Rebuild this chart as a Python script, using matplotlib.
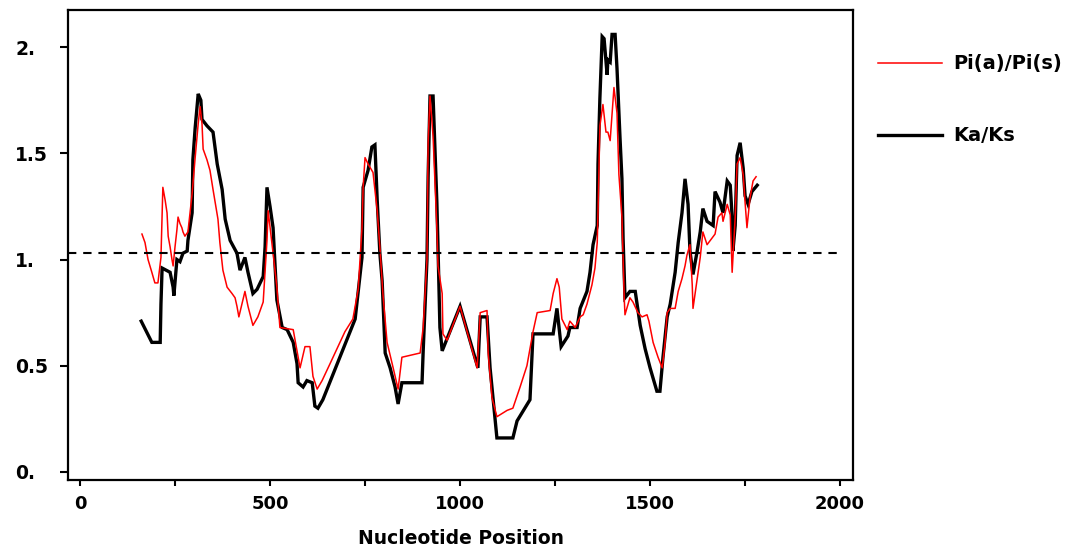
import matplotlib
matplotlib.use("Agg")
import matplotlib.pyplot as plt
from matplotlib.lines import Line2D

# Ka/Ks (black)
ka_x = [161, 189, 211, 213, 216, 237, 245, 247, 255, 263, 271, 282, 284, 295, 297, 303, 311, 318, 321, 334,
        350, 361, 374, 382, 395, 413, 421, 434, 442, 455, 466, 482, 487, 492, 500, 508, 518, 532, 545, 561,
        571, 574, 587, 597, 611, 618, 626, 639, 724, 742, 745, 758, 768, 776, 782, 789, 795, 803, 816, 829,
        837, 847, 900, 903, 913, 916, 921, 929, 934, 939, 942, 947, 953, 1000, 1047, 1053, 1071, 1079, 1097, 1139,
        1150, 1184, 1192, 1245, 1255, 1266, 1284, 1289, 1308, 1316, 1334, 1342, 1350, 1361, 1363, 1368, 1374, 1379, 1387, 1389,
        1395, 1400, 1408, 1413, 1421, 1426, 1429, 1434, 1447, 1461, 1474, 1487, 1500, 1518, 1526, 1534, 1545, 1553, 1566, 1574,
        1584, 1592, 1600, 1605, 1613, 1624, 1632, 1639, 1650, 1666, 1671, 1684, 1692, 1703, 1711, 1716, 1718, 1724, 1729, 1737,
        1745, 1750, 1758, 1768, 1782]
ka_y = [0.71, 0.61, 0.61, 0.79, 0.96, 0.94, 0.87, 0.83, 1.00, 0.99, 1.03, 1.04, 1.09, 1.22, 1.47, 1.62, 1.78, 1.75, 1.66, 1.63,
        1.60, 1.45, 1.33, 1.19, 1.09, 1.03, 0.95, 1.01, 0.94, 0.84, 0.86, 0.92, 1.06, 1.34, 1.25, 1.15, 0.81, 0.68, 0.67, 0.61,
        0.51, 0.42, 0.40, 0.43, 0.42, 0.31, 0.30, 0.34, 0.72, 1.01, 1.34, 1.42, 1.53, 1.54, 1.28, 1.03, 0.90, 0.56, 0.49, 0.40,
        0.32, 0.42, 0.42, 0.57, 1.00, 1.39, 1.77, 1.77, 1.52, 1.27, 1.06, 0.68, 0.57, 0.78, 0.49, 0.73, 0.73, 0.49, 0.16, 0.16,
        0.24, 0.34, 0.65, 0.65, 0.77, 0.59, 0.64, 0.68, 0.68, 0.77, 0.85, 0.94, 1.07, 1.16, 1.45, 1.76, 2.05, 2.04, 1.87, 1.94,
        1.93, 2.06, 2.06, 1.90, 1.57, 1.38, 1.10, 0.82, 0.85, 0.85, 0.69, 0.58, 0.49, 0.38, 0.38, 0.54, 0.73, 0.79, 0.94, 1.08,
        1.22, 1.38, 1.26, 1.04, 0.93, 1.04, 1.13, 1.24, 1.18, 1.16, 1.32, 1.27, 1.22, 1.37, 1.35, 1.20, 1.04, 1.16, 1.49, 1.55,
        1.43, 1.30, 1.26, 1.32, 1.35]

# Pi(a)/Pi(s) (red)
pi_x = [163, 171, 179, 189, 197, 205, 213, 216, 218, 224, 229, 232, 237, 242, 245, 250, 255, 258, 263, 268,
        271, 276, 284, 295, 303, 311, 316, 321, 324, 334, 342, 350, 363, 368, 376, 387, 400, 408, 413, 418,
        434, 442, 455, 468, 482, 492, 495, 508, 518, 526, 561, 571, 579, 592, 605, 613, 624, 637, 658, 697,
        718, 732, 742, 745, 750, 758, 771, 782, 789, 797, 808, 824, 837, 847, 895, 903, 913, 916, 921, 929,
        934, 939, 942, 953, 955, 966, 1000, 1045, 1053, 1071, 1074, 1084, 1097, 1124, 1139, 1158, 1176, 1192, 1203, 1237,
        1245, 1255, 1261, 1268, 1282, 1289, 1303, 1316, 1324, 1334, 1347, 1355, 1361, 1363, 1368, 1376, 1384, 1389, 1395, 1403,
        1405, 1413, 1418, 1426, 1432, 1434, 1447, 1455, 1468, 1479, 1492, 1497, 1508, 1521, 1532, 1539, 1545, 1553, 1566, 1574,
        1584, 1592, 1597, 1605, 1611, 1613, 1624, 1632, 1639, 1650, 1671, 1679, 1689, 1692, 1703, 1711, 1716, 1724, 1729, 1737,
        1745, 1750, 1755, 1763, 1771, 1779]
pi_y = [1.12, 1.08, 1.00, 0.94, 0.89, 0.89, 1.01, 1.22, 1.34, 1.28, 1.22, 1.11, 1.06, 1.00, 0.97, 1.06, 1.14, 1.20, 1.17, 1.15,
        1.13, 1.11, 1.13, 1.31, 1.48, 1.64, 1.72, 1.64, 1.52, 1.47, 1.42, 1.33, 1.19, 1.08, 0.95, 0.87, 0.84, 0.82, 0.78, 0.73,
        0.85, 0.78, 0.69, 0.73, 0.80, 1.09, 1.23, 1.03, 0.87, 0.68, 0.67, 0.57, 0.49, 0.59, 0.59, 0.45, 0.39, 0.43, 0.51, 0.66,
        0.72, 0.86, 1.15, 1.34, 1.48, 1.45, 1.41, 1.23, 1.06, 0.84, 0.61, 0.49, 0.39, 0.54, 0.56, 0.68, 1.00, 1.55, 1.77, 1.58,
        1.37, 1.15, 0.97, 0.84, 0.65, 0.62, 0.78, 0.49, 0.75, 0.76, 0.56, 0.35, 0.26, 0.29, 0.30, 0.40, 0.50, 0.66, 0.75, 0.76,
        0.84, 0.91, 0.87, 0.72, 0.67, 0.71, 0.68, 0.73, 0.74, 0.79, 0.88, 0.96, 1.08, 1.22, 1.63, 1.73, 1.60, 1.60, 1.56, 1.76,
        1.81, 1.69, 1.40, 1.20, 0.82, 0.74, 0.82, 0.80, 0.75, 0.73, 0.74, 0.71, 0.61, 0.54, 0.49, 0.60, 0.75, 0.77, 0.77, 0.85,
        0.91, 0.97, 1.02, 1.07, 0.88, 0.77, 0.91, 1.01, 1.13, 1.07, 1.12, 1.20, 1.22, 1.18, 1.26, 1.21, 0.94, 1.20, 1.45, 1.48,
        1.40, 1.27, 1.15, 1.29, 1.37, 1.39]

ref_level = 1.03
x_ticks = [0, 500, 1000, 1500, 2000]
x_minor = [250, 750, 1250, 1750]
y_ticks = [0.0, 0.5, 1.0, 1.5, 2.0]
y_labels = ["0.", "0.5", "1.", "1.5", "2."]

plt.rcParams['font.family'] = ['DejaVu Sans']
fig = plt.figure(figsize=(10.78, 5.48), dpi=100)
ax = fig.add_axes([68/1078, 68/548, (853-68)/1078, (480-10)/548])

ax.plot(ka_x, ka_y, color='black', lw=2.4, solid_joinstyle='miter')
ax.plot(pi_x, pi_y, color='#ff0000', lw=1.1)
ax.plot([-31, 2008], [ref_level, ref_level], color='black', lw=1.5, linestyle=(0, (4, 3.3)))

ax.set_xlim(-31.6, 2034)
ax.set_ylim(-0.038, 2.175)

ax.set_xticks(x_ticks)
ax.set_xticks(x_minor, minor=True)
ax.set_xticklabels([str(t) for t in x_ticks], fontsize=13, fontweight='bold')
ax.set_yticks(y_ticks)
ax.set_yticklabels(y_labels, fontsize=13.5, fontweight='bold')
for lab in ax.get_yticklabels():
    lab.set_horizontalalignment('left')
ax.tick_params(axis='y', length=6, width=1.5, pad=32)
ax.tick_params(axis='x', which='both', length=4, width=1.5, pad=7)
for s in ax.spines.values():
    s.set_linewidth(1.6)

ax.set_xlabel("Nucleotide Position", fontsize=13.5, fontweight='bold', labelpad=11)

# legend (outside right)
fig.add_artist(Line2D([878/1078, 942/1078], [1-63/548, 1-63/548], color='#ff0000', lw=1.1))
fig.add_artist(Line2D([878/1078, 942/1078], [1-135/548, 1-135/548], color='black', lw=2.4))
fig.text(953/1078, 1-63/548, "Pi(a)/Pi(s)", fontsize=14, fontweight='bold', va='center', ha='left')
fig.text(953/1078, 1-135/548, "Ka/Ks", fontsize=14, fontweight='bold', va='center', ha='left')

fig.savefig("out.png", dpi=100)
